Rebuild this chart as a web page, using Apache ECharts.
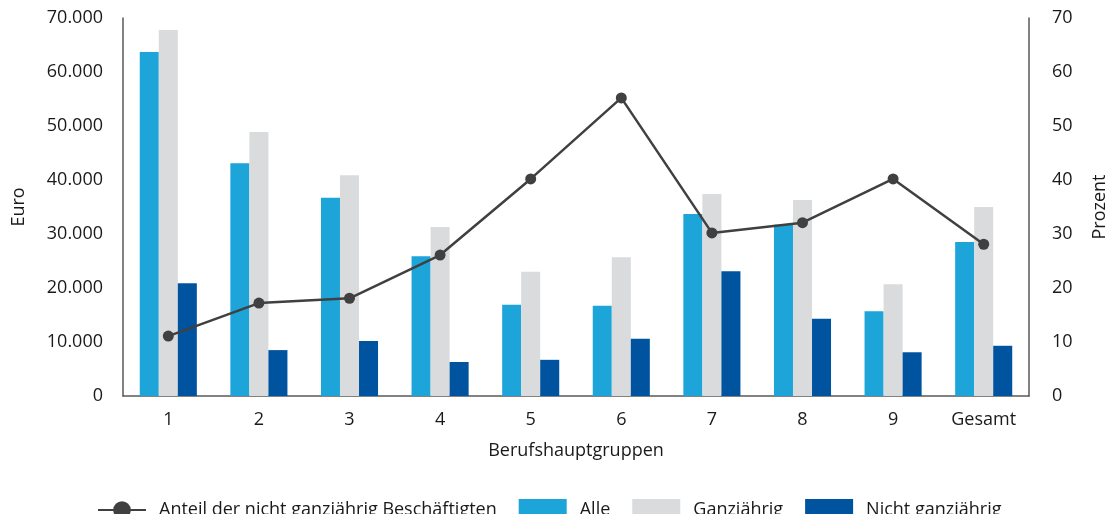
<!DOCTYPE html>
<html>
<head>
<meta charset="utf-8">
<script src="https://cdn.jsdelivr.net/npm/echarts@6/dist/echarts.min.js"></script>
<style>
  html, body { margin: 0; padding: 0; background: #fff; }
  #chart { width: 1110px; height: 514px; }
</style>
</head>
<body>
<div id="chart"></div>
<script>
// Berufshauptgruppen
const categories = ['1', '2', '3', '4', '5', '6', '7', '8', '9', 'Gesamt']
// Euro
const alle = [63700, 43100, 36700, 25900, 16900, 16700, 33700, 31700, 15700, 28500]
const ganzjaehrig = [67800, 48900, 40900, 31300, 23000, 25700, 37400, 36300, 20700, 35000]
const nichtGanzjaehrig = [20900, 8500, 10200, 6300, 6700, 10600, 23100, 14300, 8100, 9300]
// Prozent
const anteil = [11.1, 17.2, 18.1, 26.1, 40.2, 55.2, 30.2, 32.1, 40.2, 28.1]

const font = '"Open Sans", "Noto Sans", sans-serif'
const textColor = '#1a1a1a'
const axisColor = '#595959'
const fs = 18

function euro(v) {
  return String(v).replace(/\B(?=(\d{3})+(?!\d))/g, '.')
}

const chart = echarts.init(document.getElementById('chart'))

chart.setOption({
  backgroundColor: '#fff',
  textStyle: { fontFamily: font, color: textColor },
  grid: { left: 123, right: 81, top: 18, bottom: 118, outerBoundsMode: 'none', containLabel: false },
  legend: {
    top: 494,
    left: 92,
    itemWidth: 48,
    itemHeight: 22,
    itemGap: 22,
    textStyle: { fontFamily: font, fontSize: fs, color: textColor, padding: [0, 0, 0, 8] },
    data: [
      { name: 'Anteil der nicht ganzjährig Beschäftigten' },
      { name: 'Alle', icon: 'rect' },
      { name: 'Ganzjährig', icon: 'rect' },
      { name: 'Nicht ganzjährig', icon: 'rect' },
    ],
  },
  xAxis: {
    type: 'category',
    data: categories,
    name: 'Berufshauptgruppen',
    nameLocation: 'middle',
    nameGap: 46,
    nameTextStyle: { fontFamily: font, fontSize: fs, color: textColor },
    axisLine: { lineStyle: { color: axisColor, width: 1.5 } },
    axisTick: { show: false },
    axisLabel: { fontFamily: font, fontSize: fs, color: textColor, margin: 15 },
  },
  yAxis: [
    {
      type: 'value',
      min: 0,
      max: 70000,
      interval: 10000,
      name: 'Euro',
      nameLocation: 'middle',
      nameRotate: 90,
      nameGap: 95,
      nameTextStyle: { fontFamily: font, fontSize: fs, color: textColor },
      axisLine: { show: true, lineStyle: { color: axisColor, width: 1.5 } },
      axisTick: { show: false },
      splitLine: { show: false },
      axisLabel: { fontFamily: font, fontSize: fs, color: textColor, margin: 20, formatter: euro },
    },
    {
      type: 'value',
      min: 0,
      max: 70,
      interval: 10,
      name: 'Prozent',
      nameLocation: 'middle',
      nameRotate: 90,
      nameGap: 62,
      nameTextStyle: { fontFamily: font, fontSize: fs, color: textColor },
      axisLine: { show: true, lineStyle: { color: axisColor, width: 1.5 } },
      axisTick: { show: false },
      splitLine: { show: false },
      axisLabel: { fontFamily: font, fontSize: fs, color: textColor, margin: 23 },
    },
  ],
  series: [
    {
      name: 'Alle',
      type: 'bar',
      data: alle,
      barGap: '0%',
      barCategoryGap: '37%',
      itemStyle: { color: '#1DA5D9' },
    },
    {
      name: 'Ganzjährig',
      type: 'bar',
      data: ganzjaehrig,
      itemStyle: { color: '#DADBDD' },
    },
    {
      name: 'Nicht ganzjährig',
      type: 'bar',
      data: nichtGanzjaehrig,
      itemStyle: { color: '#00549F' },
    },
    {
      name: 'Anteil der nicht ganzjährig Beschäftigten',
      type: 'line',
      yAxisIndex: 1,
      data: anteil,
      z: 5,
      symbol: 'circle',
      symbolSize: 11,
      lineStyle: { color: '#404040', width: 2.5 },
      itemStyle: { color: '#404040' },
    },
  ],
})
</script>
</body>
</html>
